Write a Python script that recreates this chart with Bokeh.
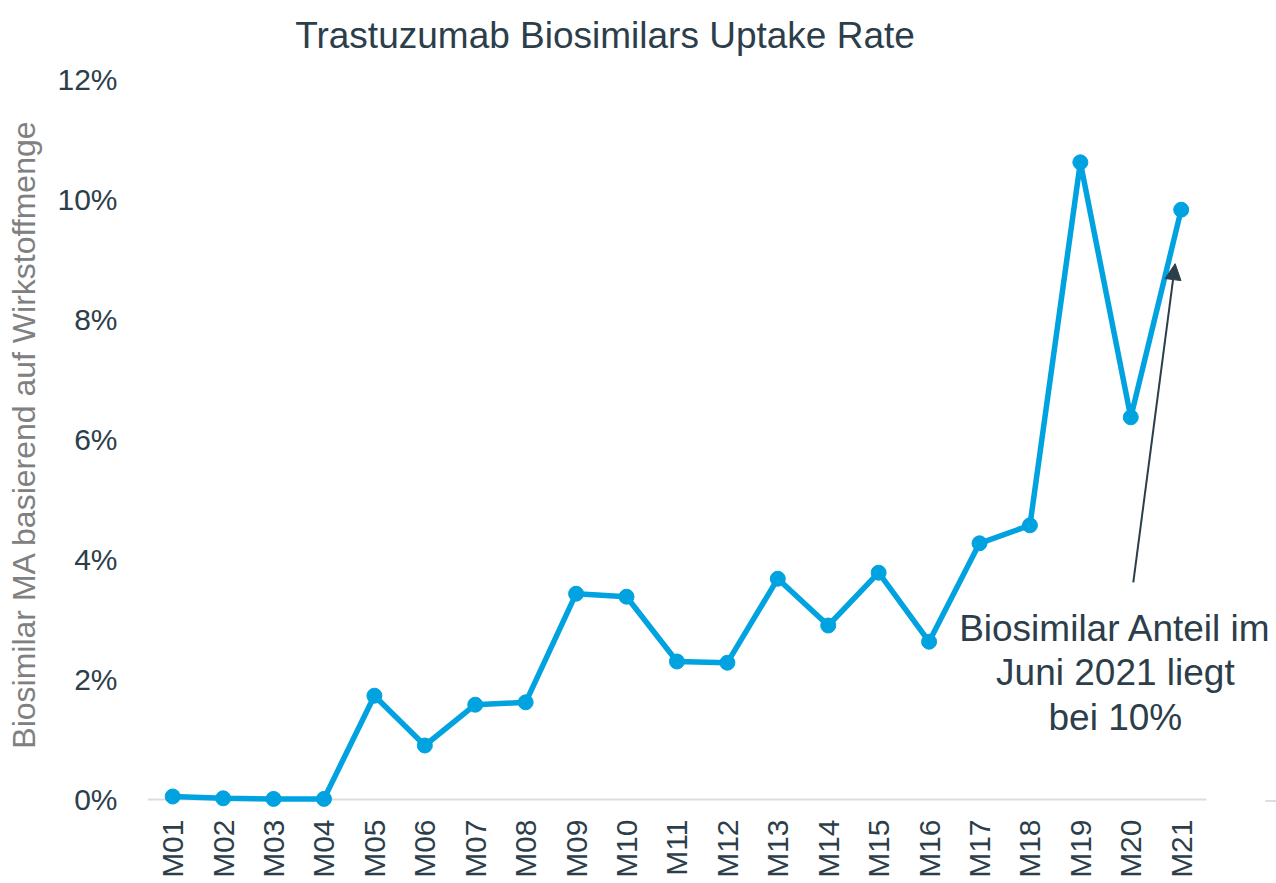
from bokeh.plotting import figure
from bokeh.embed import file_html
from bokeh.resources import INLINE
from bokeh.models import (Range1d, FixedTicker, NumeralTickFormatter, BoxAnnotation,
                          Label, Arrow, NormalHead, ColumnDataSource)

months = ["M%02d" % i for i in range(1, 22)]
uptake = [0.0005, 0.0002, 0.0001, 0.0001, 0.0173, 0.0090, 0.0158, 0.0162, 0.0343,
          0.0338, 0.0230, 0.0228, 0.0368, 0.0290, 0.0378, 0.0263, 0.0427, 0.0457,
          0.1062, 0.0637, 0.0983]
y_ticks = [0, 0.02, 0.04, 0.06, 0.08, 0.10, 0.12]
title_text = "Trastuzumab Biosimilars Uptake Rate"
y_title = "Biosimilar MA basierend auf Wirkstoffmenge"
note_lines = ["Biosimilar Anteil im", "Juni 2021 liegt", "bei 10%"]

FONT = "Liberation Sans"
DARK = "#2c3e4a"
BLUE = "#00a3e0"
BASE = "#d9dee2"

idx = list(range(len(months)))
src = ColumnDataSource(data=dict(x=idx, v=uptake))

X_END = 21.89
p = figure(x_range=Range1d(-0.5, X_END), y_range=Range1d(-0.0025, 0.13317),
           frame_width=1129, frame_height=814, output_backend="svg",
           toolbar_location=None, min_border_left=147, min_border_right=0,
           min_border_top=0, min_border_bottom=0, background_fill_color="white")
p.outline_line_color = None
p.xgrid.visible = False
p.ygrid.visible = False

# chart title (placed inside the extended frame)
p.add_layout(Label(x=2.43, y=0.12733, text=title_text, text_align="left",
                   text_baseline="alphabetic", text_font=FONT,
                   text_font_size="37px", text_color=DARK))

p.add_layout(BoxAnnotation(left=-0.5, right=len(months) - 0.5, bottom=-0.00017, top=0.00017,
                           fill_color=BASE, fill_alpha=1, line_color=None, level="underlay"))
p.add_layout(BoxAnnotation(left=21.67, right=X_END, bottom=-0.00042, top=-0.00008,
                           fill_color=BASE, fill_alpha=1, line_color=None, level="underlay"))

p.line("x", "v", source=src, line_color=BLUE, line_width=5.5)
p.scatter("x", "v", source=src, size=15, fill_color=BLUE, line_color=BLUE)

ya = p.yaxis[0]
ya.ticker = FixedTicker(ticks=y_ticks)
ya.formatter = NumeralTickFormatter(format="0%")
ya.axis_line_color = None
ya.major_tick_line_color = None
ya.minor_tick_line_color = None
ya.major_tick_out = 0
ya.major_tick_in = 0
ya.major_label_standoff = 30
ya.major_label_text_font = FONT
ya.major_label_text_font_size = "30px"
ya.major_label_text_color = DARK
ya.axis_label = y_title + "\u00a0" * 6
ya.axis_label_text_font = FONT
ya.axis_label_text_font_size = "32px"
ya.axis_label_text_font_style = "normal"
ya.axis_label_text_color = "#808080"
ya.axis_label_standoff = 12

xa = p.xaxis[0]
xa.ticker = FixedTicker(ticks=idx)
xa.major_label_overrides = {i: m for i, m in zip(idx, months)}
xa.axis_line_color = None
xa.major_tick_line_color = None
xa.minor_tick_line_color = None
xa.major_tick_out = 0
xa.major_tick_in = 0
xa.major_label_standoff = 5
xa.major_label_orientation = 3.14159265 / 2
xa.major_label_text_font = FONT
xa.major_label_text_font_size = "30px"
xa.major_label_text_color = DARK

note_y = [0.0285, 0.0212, 0.0137]
for txt, yy in zip(note_lines, note_y):
    p.add_layout(Label(x=18.695, y=yy, text=txt, text_align="center",
                       text_baseline="alphabetic", text_font=FONT,
                       text_font_size="37px", text_color=DARK))

p.add_layout(Arrow(end=NormalHead(size=16, fill_color=DARK, line_color=DARK),
                   x_start=19.05, y_start=0.0362, x_end=19.88, y_end=0.0893,
                   line_color=DARK, line_width=2))

open("out.html", "w").write(file_html(p, INLINE))
